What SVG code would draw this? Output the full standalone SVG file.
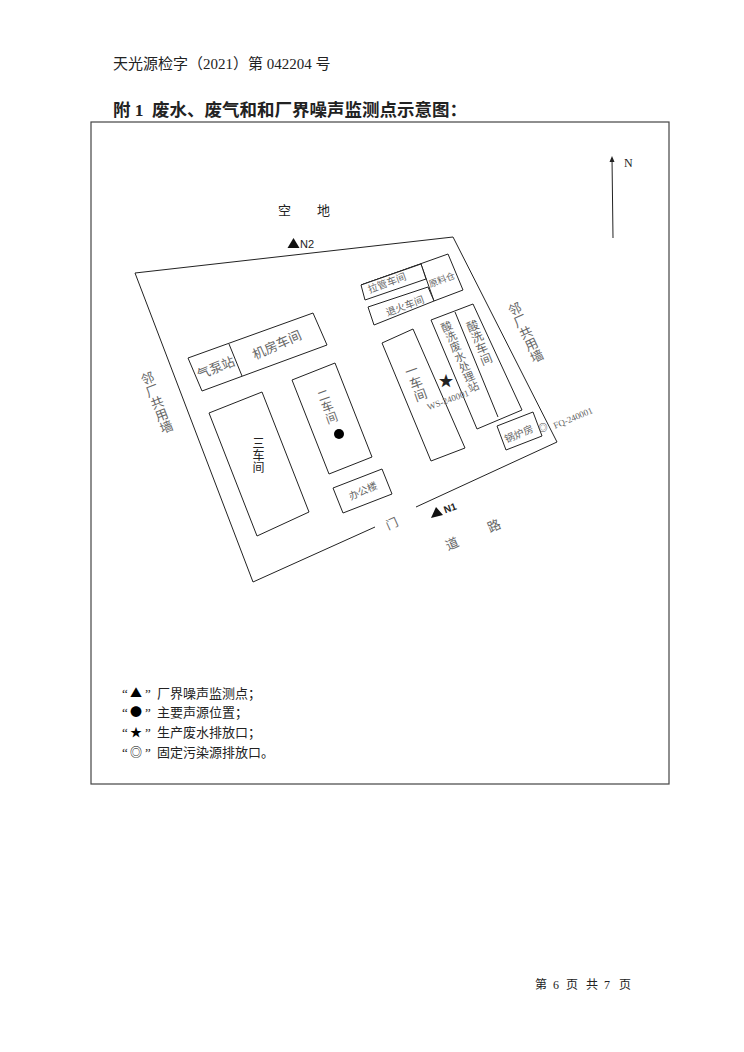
<svg xmlns="http://www.w3.org/2000/svg" width="744" height="1052" viewBox="0 0 744 1052">
<style>
text{font-family:"Liberation Serif","Noto Sans CJK SC",serif;fill:#222}
.b{fill:#fff;stroke:#222;stroke-width:1}
.l{fill:none;stroke:#222;stroke-width:1}
.g{fill:#666}
.m{text-anchor:middle}
.hz{text-anchor:middle;dominant-baseline:central}
.v{text-anchor:middle;writing-mode:vertical-rl}
.s{font-family:"Liberation Sans","Noto Sans CJK SC",sans-serif}
.sym{font-family:"Noto Sans CJK SC",sans-serif;font-size:12px;fill:#000}
</style>
<rect width="744" height="1052" fill="#fff"/>
<text x="113" y="69" font-size="15">天光源检字（2021）第 042204 号</text>
<text y="116" font-size="17.500" font-weight="700" fill="#000"><tspan x="113">附 1</tspan><tspan x="152">废水、废气和和厂界噪声监测点示意图：</tspan></text>
<rect x="91" y="122" width="578" height="662" fill="none" stroke="#444" stroke-width="1.2"/>
<g id="connectors">
<polyline class="l" points="416,507 557,442 453,237 135,273 253,582 375,527"/>
<line x1="613" y1="238" x2="612" y2="158" stroke="#222" stroke-width="1"/>
<path d="M612,156 L609.500,162 L614.500,162 Z" fill="#222"/>
</g>
<g id="north"><text x="624" y="167" font-size="12">N</text></g>
<g id="n-kongdi"><text x="278" y="215" font-size="13">空</text><text x="317" y="215" font-size="13">地</text></g>
<g id="node-jifang">
<polygon class="b" points="188,358 313,313 327,345 202,391"/>
<line class="l" x1="229" y1="344" x2="242" y2="376"/>
<text class="hz g" font-size="13" transform="translate(277,345) rotate(-24)">机房车间</text>
<text class="hz g" font-size="13" transform="translate(216,368) rotate(-22)">气泵站</text>
</g>
<g id="node-san">
<polygon class="b" points="209,413 262,392 309,512 257,536"/>
<text class="v" font-size="12" x="257" y="455">三车间</text>
</g>
<g id="node-er">
<polygon class="b" points="292,380 335,363 372,457 329,474"/>
<text class="v g" font-size="12" transform="translate(326,407) rotate(-20)">二车间</text>
<circle cx="339" cy="434" r="5" fill="#000"/>
</g>
<g id="node-bangong">
<polygon class="b" points="333,488 382,469 392,494 343,513"/>
<text class="hz g" font-size="10" transform="translate(363,491) rotate(-24)">办公楼</text>
</g>
<g id="node-yi">
<polygon class="b" points="382,343 413,329 465,448 431,461"/>
<text class="v g" font-size="13" transform="translate(415,383) rotate(-20)">一车间</text>
</g>
<g id="node-suanxi">
<polygon class="b" points="431,320 473,304 522,410 477,429"/>
<line class="l" x1="455" y1="312" x2="498" y2="417"/>
<text class="v g" font-size="11" transform="translate(459,357) rotate(-24)">酸洗废水处理站</text>
<text class="v g" font-size="12" transform="translate(478,343) rotate(-22)">酸洗车间</text>
<text x="446" y="386" class="m" font-size="15" fill="#000">★</text>
<text class="hz g" font-size="9" transform="translate(448,400) rotate(-20)">WS-240001</text>
</g>
<g id="node-guolu">
<polygon class="b" points="497,426 533,412 542,436 506,450"/>
<text class="hz g" font-size="10" transform="translate(519,434) rotate(-23)">锅炉房</text>
<text class="hz" font-size="9" font-weight="700" x="543" y="428" style="fill:#555">◎</text>
<text class="hz g" font-size="9" transform="translate(573,418) rotate(-23)">FQ-240001</text>
</g>
<g id="node-laguan">
<polygon class="b" points="361,285 448,254 463,290 434,301 421,264"/>
<polygon class="b" points="361,285 421,264 426,279 365,300"/>
<polygon class="b" points="368,307 428,287 434,301 374,325"/>
<text class="hz g" font-size="10" transform="translate(387,283) rotate(-20)">拉管车间</text>
<text class="hz g" font-size="10" transform="translate(405,306) rotate(-20)">退火车间</text>
<text class="hz g" font-size="9" transform="translate(442,280) rotate(-20)">原料仓</text>
</g>
<g id="walls">
<text class="v g" font-size="13" transform="translate(156,403) rotate(-21)">邻厂共用墙</text>
<text class="v g" font-size="13" transform="translate(525,333) rotate(-25)">邻厂共用墙</text>
</g>
<g id="n2"><path d="M287.500,248 L293.500,238 L299.500,248 Z" fill="#111"/><text class="s" x="300" y="248" font-size="11">N2</text></g>
<g id="n1"><path d="M431,518 L436,507 L443,515 Z" fill="#111"/><text class="hz s" font-weight="700" font-size="10" transform="translate(450,508) rotate(-20)">N1</text></g>
<g id="road">
<text class="hz g" font-size="12" transform="translate(392,524) rotate(-24)">门</text>
<text class="hz g" font-size="13" transform="translate(452,544) rotate(-24)">道</text>
<text class="hz g" font-size="13" transform="translate(494,526) rotate(-24)">路</text>
</g>
<g id="legend" font-size="13">
<text y="698"><tspan x="122">“</tspan><tspan x="130" class="sym">▲</tspan><tspan x="145">”</tspan><tspan x="157">厂界噪声监测点；</tspan></text>
<text y="717"><tspan x="122">“</tspan><tspan x="130" class="sym">●</tspan><tspan x="145">”</tspan><tspan x="157">主要声源位置；</tspan></text>
<text y="737"><tspan x="122">“</tspan><tspan x="130" class="sym">★</tspan><tspan x="145">”</tspan><tspan x="157">生产废水排放口；</tspan></text>
<text y="757"><tspan x="122">“</tspan><tspan x="130" class="sym">◎</tspan><tspan x="145">”</tspan><tspan x="157">固定污染源排放口。</tspan></text>
</g>
<text y="989" font-size="12"><tspan x="535">第</tspan><tspan x="553">6</tspan><tspan x="566">页</tspan><tspan x="586">共</tspan><tspan x="604">7</tspan><tspan x="619">页</tspan></text>
</svg>
